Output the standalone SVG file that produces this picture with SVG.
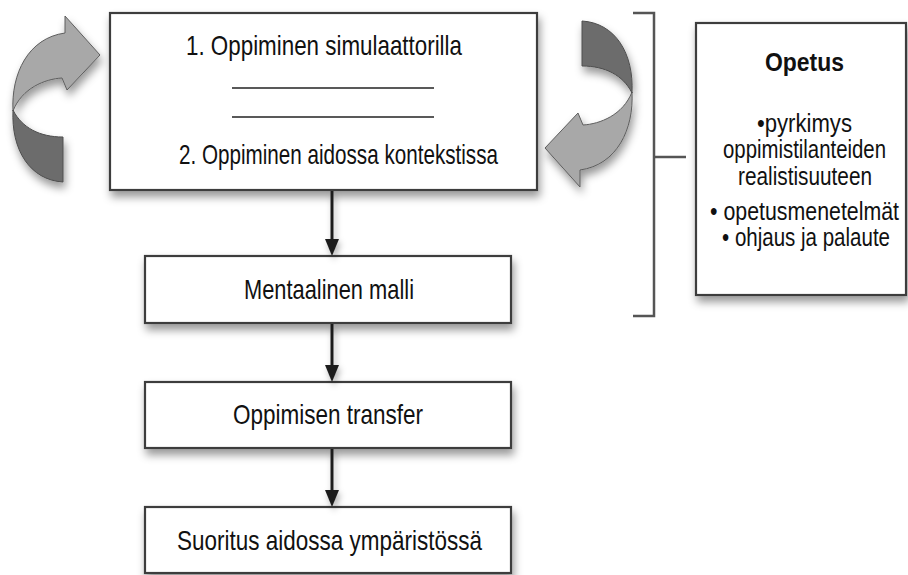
<svg xmlns="http://www.w3.org/2000/svg" width="908" height="575" viewBox="0 0 908 575">
  <defs>
    <filter id="sh" x="-20%" y="-20%" width="140%" height="150%">
      <feDropShadow dx="2" dy="6" stdDeviation="4" flood-color="#000" flood-opacity="0.4"/>
    </filter>
    <filter id="shs" filterUnits="userSpaceOnUse" x="300" y="180" width="80" height="340">
      <feDropShadow dx="2" dy="4" stdDeviation="3" flood-color="#000" flood-opacity="0.3"/>
    </filter>
    <marker id="ah" viewBox="0 0 17 14" refX="7" refY="7" markerWidth="17" markerHeight="14" markerUnits="userSpaceOnUse" orient="auto">
      <path d="M0,0 L17,7 L0,14 Z" fill="#1e1e1e"/>
    </marker>
    <g id="curl">
      <path class="light" d="M65,33 L65,16 L100,55 L67,90 L62,78 C45,79 22,88 13,111 C11,74 28,38 65,33 Z"/>
      <path class="dark" d="M13,110 C11,150 30,180 63,182 L63,137 C40,137 22,128 13,110 Z"/>
    </g>
  </defs>
  <style>
    .box { fill: #ffffff; stroke: #3c3c3c; stroke-width: 2.2; filter: url(#sh); }
    .t { font-family: "Liberation Sans Narrow", "Liberation Sans", Arial, sans-serif; font-size: 28px; fill: #111; }
    .s { font-family: "Liberation Sans Narrow", "Liberation Sans", Arial, sans-serif; font-size: 25px; fill: #111; }
    .b { font-family: "Liberation Sans Narrow", "Liberation Sans", Arial, sans-serif; font-size: 25px; font-weight: bold; fill: #111; }
    .light { fill: #a8a8a8; stroke: #5e5e5e; stroke-width: 1; }
    .dark { fill: #6c6c6c; stroke: #4e4e4e; stroke-width: 1; }
    .conn { stroke: #1e1e1e; stroke-width: 3; fill: none; }
    .br { stroke: #555; stroke-width: 2.5; fill: none; }
    .rule { stroke: #222; stroke-width: 1.3; }
  </style>
  <rect width="908" height="575" fill="#ffffff"/>

  <g id="loop-left" filter="url(#sh)">
    <use href="#curl"/>
  </g>
  <g id="loop-right" filter="url(#sh)">
    <g transform="translate(645,203) rotate(180)">
      <use href="#curl"/>
    </g>
  </g>

  <g id="node-learning">
    <rect class="box" x="110" y="13" width="427" height="177"/>
    <text class="t" x="186" y="55" textLength="276" lengthAdjust="spacingAndGlyphs">1. Oppiminen simulaattorilla</text>
    <line class="rule" x1="232" y1="88" x2="434" y2="88"/>
    <line class="rule" x1="232" y1="117" x2="434" y2="117"/>
    <text class="t" x="179" y="164" textLength="319" lengthAdjust="spacingAndGlyphs">2. Oppiminen aidossa kontekstissa</text>
  </g>

  <g id="node-mental">
    <rect class="box" x="145" y="256" width="366" height="67"/>
    <text class="t" x="244" y="299" textLength="170" lengthAdjust="spacingAndGlyphs">Mentaalinen malli</text>
  </g>

  <g id="node-transfer">
    <rect class="box" x="145" y="382" width="366" height="66"/>
    <text class="t" x="233" y="424" textLength="190" lengthAdjust="spacingAndGlyphs">Oppimisen transfer</text>
  </g>

  <g id="node-performance">
    <rect class="box" x="145" y="507" width="366" height="66"/>
    <text class="t" x="177" y="550" textLength="305" lengthAdjust="spacingAndGlyphs">Suoritus aidossa ympäristössä</text>
  </g>

  <g id="node-opetus">
    <rect class="box" x="696" y="23" width="210" height="272"/>
    <text class="b" x="765" y="71" textLength="79" lengthAdjust="spacingAndGlyphs">Opetus</text>
    <text class="s" x="757" y="132" textLength="95" lengthAdjust="spacingAndGlyphs">•pyrkimys</text>
    <text class="s" x="723" y="158" textLength="163" lengthAdjust="spacingAndGlyphs">oppimistilanteiden</text>
    <text class="s" x="738" y="185" textLength="134" lengthAdjust="spacingAndGlyphs">realistisuuteen</text>
    <text class="s" x="710" y="220" textLength="189" lengthAdjust="spacingAndGlyphs">• opetusmenetelmät</text>
    <text class="s" x="722" y="246" textLength="168" lengthAdjust="spacingAndGlyphs">• ohjaus ja palaute</text>
  </g>

  <g id="connectors">
    <g filter="url(#shs)">
      <line class="conn" x1="332" y1="191" x2="332" y2="246" marker-end="url(#ah)"/>
      <line class="conn" x1="332" y1="324" x2="332" y2="372" marker-end="url(#ah)"/>
      <line class="conn" x1="332" y1="449" x2="332" y2="497" marker-end="url(#ah)"/>
    </g>
    <path class="br" d="M633,13 H654 V316 H633"/>
    <line class="br" x1="654" y1="157" x2="686" y2="157"/>
  </g>
</svg>
